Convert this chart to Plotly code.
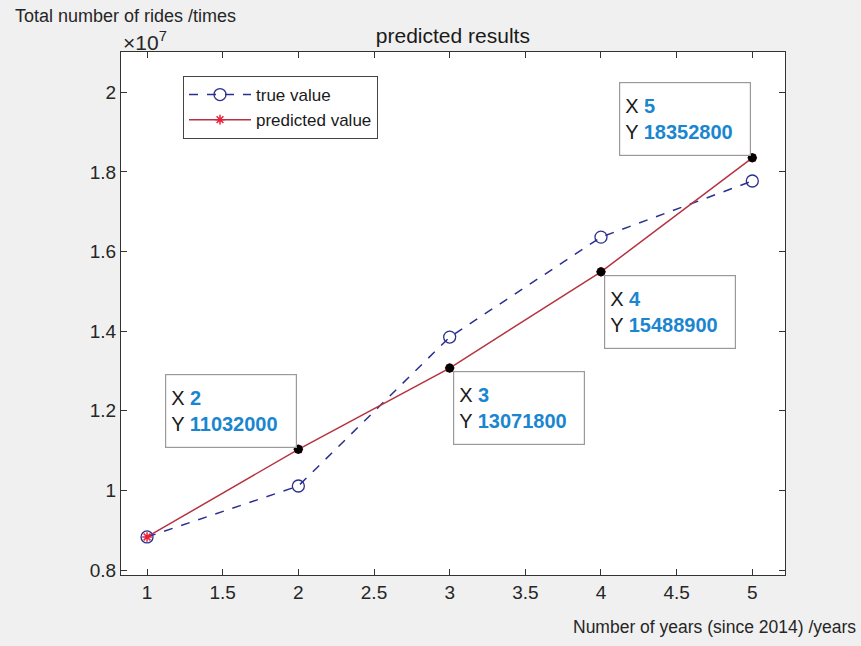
import plotly.graph_objects as go

years = [1, 2, 3, 4, 5]
true_value = [8830000, 10110000, 13850000, 16360000, 17770000]
predicted_value = [8830000, 11032000, 13071800, 15488900, 18352800]
tip_idx = [1, 2, 3, 4]
y_ticks = [8e6, 1e7, 1.2e7, 1.4e7, 1.6e7, 1.8e7, 2e7]
y_tick_text = ["0.8", "1", "1.2", "1.4", "1.6", "1.8", "2"]
x_ticks = [1, 1.5, 2, 2.5, 3, 3.5, 4, 4.5, 5]
x_tick_text = ["1", "1.5", "2", "2.5", "3", "3.5", "4", "4.5", "5"]

FONT = "Liberation Sans, Arial, sans-serif"
BLUE_LINE = "#2a2f8f"
RED_LINE = "#b5333f"
TIP_BLUE = "#1a86d0"

L, R, T, B = 121, 785, 52, 575
PW, PH = R - L, B - T

fig = go.Figure()
fig.add_trace(go.Scatter(
    x=years, y=true_value, name="true value", mode="lines+markers",
    line=dict(color=BLUE_LINE, width=1.5, dash="dash"),
    marker=dict(symbol="circle-open", size=12, color=BLUE_LINE, line=dict(width=1.3)),
))
fig.add_trace(go.Scatter(
    x=years, y=predicted_value, name="predicted value", mode="lines+markers",
    line=dict(color=RED_LINE, width=1.5),
    marker=dict(symbol="asterisk-open", size=8, color="#e8203a", line=dict(width=1.5, color="#e8203a")),
))
fig.add_trace(go.Scatter(
    x=[years[i] for i in tip_idx], y=[predicted_value[i] for i in tip_idx],
    mode="markers", showlegend=False,
    marker=dict(size=9, color="black"),
))

# datatip boxes: (index, xanchor, yanchor, xshift, yshift)
tip_layout = {1: ("right", "bottom", -1, 1), 2: ("left", "top", 3, -3),
              3: ("left", "top", 3, -3), 4: ("right", "bottom", -1, 2)}
for i in tip_idx:
    xa, ya, xs, ys = tip_layout[i]
    txt = (f"X <span style='color:{TIP_BLUE}'><b>{years[i]}</b></span><br>"
           f"Y <span style='color:{TIP_BLUE}'><b>{predicted_value[i]}</b></span>")
    fig.add_annotation(
        x=years[i], y=predicted_value[i], xref="x", yref="y", text=txt,
        showarrow=False, xanchor=xa, yanchor=ya, xshift=xs, yshift=ys,
        align="left", width=120, height=62, borderpad=5,
        bordercolor="#9a9a9a", borderwidth=1.2, bgcolor="rgba(255,255,255,0.9)",
        font=dict(family=FONT, size=20, color="#1a1a1a"),
    )

fig.add_annotation(x=-(L - 13) / PW, y=1 + (T - 16) / PH, xref="paper", yref="paper",
                   text="Total number of rides /times", showarrow=False,
                   xanchor="left", yanchor="middle",
                   font=dict(family=FONT, size=18, color="#262626"))
fig.add_annotation(x=0, y=1 + (T - 41) / PH, xref="paper", yref="paper",
                   text="×10<sup>7</sup>", showarrow=False, xanchor="left", yanchor="middle",
                   font=dict(family=FONT, size=21, color="#262626"))
fig.add_annotation(x=(858 - L) / PW, y=-(627 - B) / PH, xref="paper", yref="paper",
                   text="Number of years (since 2014) /years", showarrow=False,
                   xanchor="right", yanchor="middle",
                   font=dict(family=FONT, size=17.5, color="#262626"))

fig.update_layout(
    width=861, height=646,
    margin=dict(l=L, r=861 - R, t=T, b=646 - B, autoexpand=False),
    paper_bgcolor="#f0f0f0", plot_bgcolor="white",
    title=dict(text="predicted results", x=0.526, xanchor="center", y=1 - 36 / 646, yanchor="middle",
               font=dict(family=FONT, size=21, color="#1a1a1a")),
    font=dict(family=FONT, color="#262626"),
    showlegend=True,
    legend=dict(x=(183 - L) / PW, y=(B - 76) / PH, xanchor="left", yanchor="top",
                bgcolor="white", bordercolor="#444", borderwidth=1,
                font=dict(family=FONT, size=17, color="#1a1a1a"),
                tracegroupgap=0, itemwidth=62),
    xaxis=dict(range=[0.828, 5.216], tickvals=x_ticks, ticktext=x_tick_text,
               ticks="inside", ticklen=6, tickcolor="#333", showgrid=False, zeroline=False,
               showline=True, linecolor="#333", linewidth=1, mirror="ticks",
               tickfont=dict(family=FONT, size=19, color="#262626")),
    yaxis=dict(range=[7875000, 21010000], tickvals=y_ticks, ticktext=y_tick_text,
               ticks="inside", ticklen=6, tickcolor="#333", showgrid=False, zeroline=False,
               showline=True, linecolor="#333", linewidth=1, mirror="ticks",
               tickfont=dict(family=FONT, size=19, color="#262626")),
)

fig.write_html("out.html", config={"displayModeBar": False},
               post_script="document.body.style.margin='0';document.body.style.padding='0';")
